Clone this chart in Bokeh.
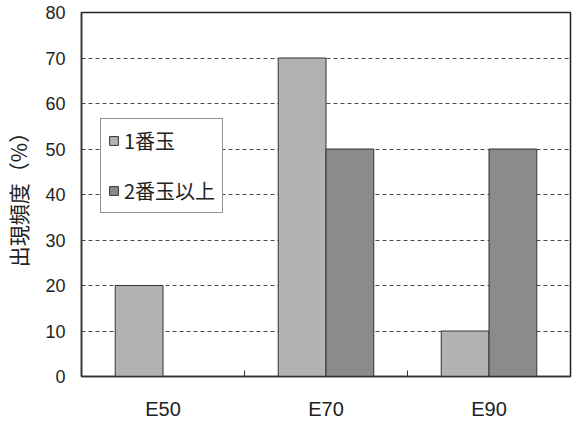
import numpy as np
from bokeh.plotting import figure
from bokeh.models import (FixedTicker, Legend, LegendItem, ColumnDataSource, Range1d)
from bokeh.embed import file_html
from bokeh.resources import INLINE

# ---- data ----
categories = ["E50", "E70", "E90"]
series_names = ["1番玉", "2番玉以上"]
first_ball = [20, 70, 10]
second_plus = [0, 50, 50]
y_ticks = [0, 10, 20, 30, 40, 50, 60, 70, 80]
y_label = "出現頻度（%）"

light = "#b2b2b2"
dark = "#8b8b8b"
bar_w = 0.293

p = figure(width=572, height=423, output_backend="svg", toolbar_location=None,
           x_range=Range1d(0, len(categories)), y_range=Range1d(0, 80),
           min_border_left=79, min_border_right=2, min_border_top=12, min_border_bottom=47)

centers = np.arange(len(categories)) + 0.5
src1 = ColumnDataSource(dict(x=centers - bar_w / 2, top=first_ball))
src2 = ColumnDataSource(dict(x=centers + bar_w / 2, top=second_plus))
r1 = p.vbar(x="x", top="top", width=bar_w, source=src1, fill_color=light,
            line_color="#333333", line_width=1)
r2 = p.vbar(x="x", top="top", width=bar_w, source=src2, fill_color=dark,
            line_color="#333333", line_width=1)

# x axis: labels at centres, tick marks between categories
p.xaxis.ticker = FixedTicker(ticks=list(centers),
                             minor_ticks=list(np.arange(1, len(categories))))
p.xaxis.major_label_overrides = {float(c): cat for c, cat in zip(centers, categories)}
p.xaxis.major_tick_in = 0
p.xaxis.major_tick_out = 0
p.xaxis.minor_tick_in = 6
p.xaxis.minor_tick_out = 0
p.xaxis.minor_tick_line_color = "#333333"
p.xaxis.major_label_standoff = 21
p.xaxis.major_label_text_font = "Liberation Sans"
p.xaxis.major_label_text_font_size = "20px"
p.xaxis.major_label_text_color = "#222222"
p.xaxis.axis_line_color = "#333333"
p.xaxis.axis_line_width = 1.5

# y axis
p.yaxis.ticker = FixedTicker(ticks=y_ticks)
p.yaxis.major_tick_in = 0
p.yaxis.major_tick_out = 0
p.yaxis.minor_tick_line_color = None
p.yaxis.major_label_standoff = 16
p.yaxis.major_label_text_font = "Liberation Sans"
p.yaxis.major_label_text_font_size = "18px"
p.yaxis.major_label_text_color = "#222222"
p.yaxis.axis_line_color = "#333333"
p.yaxis.axis_line_width = 1.5
p.yaxis.axis_label = y_label
p.yaxis.axis_label_text_font = "Noto Sans CJK JP"
p.yaxis.axis_label_text_font_style = "normal"
p.yaxis.axis_label_text_font_size = "21px"
p.yaxis.axis_label_text_color = "#222222"
p.yaxis.axis_label_standoff = 9

p.xgrid.visible = False
p.ygrid.ticker = FixedTicker(ticks=y_ticks)
p.ygrid.grid_line_color = "#4a4a4a"
p.ygrid.grid_line_dash = "4 3"
p.ygrid.grid_line_width = 1.2

p.outline_line_color = "#222222"
p.outline_line_width = 1.5
p.background_fill_color = "white"
p.border_fill_color = "white"

legend = Legend(items=[LegendItem(label=series_names[0], renderers=[r1]),
                       LegendItem(label=series_names[1], renderers=[r2])],
                location=(19, 163), orientation="vertical")
legend.glyph_width = 11
legend.glyph_height = 11
legend.label_text_font = "Noto Sans CJK JP"
legend.label_text_font_size = "20px"
legend.label_text_color = "#222222"
legend.label_standoff = 5
legend.spacing = 21
legend.padding = 7
legend.margin = 0
legend.border_line_color = "#222222"
legend.border_line_width = 1.5
legend.background_fill_alpha = 1
p.add_layout(legend, "center")

open("out.html", "w").write(file_html(p, INLINE))
